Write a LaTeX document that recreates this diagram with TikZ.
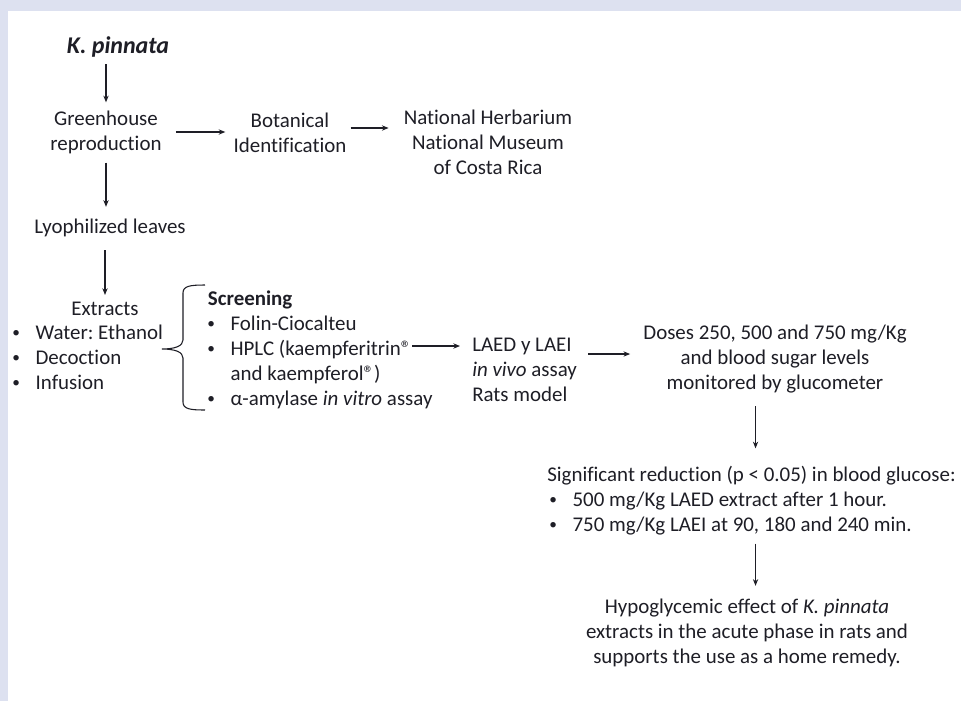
\documentclass[tikz,border=0pt]{standalone}
\usepackage{fontspec}
\setmainfont{Carlito}[Ligatures=NoCommon]
\usetikzlibrary{arrows.meta}
\definecolor{ink}{RGB}{30,30,38}
\definecolor{framec}{RGB}{221,225,240}
\newcommand{\txtfont}{\frenchspacing\fontsize{15.7pt}{18.75pt}\selectfont}
\newcommand{\blt}{\makebox[19pt][l]{\hspace{1.5pt}\raisebox{1.5pt}{\fontsize{11.5pt}{11.5pt}\selectfont\textbullet}}}
\newcommand{\reg}{\textregistered}

\begin{document}
\begin{tikzpicture}[x=0.75pt, y=-0.75pt,
          every node/.style={font=\txtfont, text=ink, inner sep=0pt},
          title/.style={align=center},
          listbox/.style={align=left, anchor=west},
          arr/.style={draw=ink, line width=0.8pt, -{Stealth[length=5pt,width=4pt]}}]

        \useasboundingbox (0,0) rectangle (961,701);
        \fill[framec] (0,0) rectangle (961,701);
        \fill[white]  (8,11) rectangle (961,701);

        \node[title, font=\fontsize{18pt}{22pt}\selectfont\bfseries\itshape] (kp) at (118,47) {K. pinnata};
        \node[title] (green) at (106,132) {Greenhouse\\reproduction};
        \node[title] (bot)   at (290,133) {Botanical\\Identification};
        \node[title] (herb)  at (488,142) {National Herbarium\\National Museum\\of Costa Rica};
        \node        (lyo)   at (110,228) {Lyophilized leaves};
        \coordinate  (botout) at ([yshift=3.75pt]bot.east);

        \draw[arr, shorten <=5pt, shorten >=6pt]       (kp.south -| green.north) -- (green.north);
        \draw[arr, shorten <=6.75pt, shorten >=9pt]    (green.south) -- (green.south |- lyo.north);
        \draw[arr, shorten <=10.5pt, shorten >=6pt]    (green.east) -- (green.east -| bot.west);
        \draw[arr, shorten <=3pt, shorten >=11.25pt]   (botout) -- (botout -| herb.west);

        \node           (extr)     at (105,309) {Extracts};
        \node[listbox]  (extrlist) at (10,357)  {\blt Water: Ethanol\\\blt Decoction\\\blt Infusion};
        \node[listbox]  (screen)   at (205,350) {\hspace{2pt}\textbf{Screening}\\\blt Folin-Ciocalteu\\\blt HPLC (kaempferitrin\reg\\\hspace*{19pt}and kaempferol\reg)\\\blt α-amylase \textit{in vitro} assay};
        \node[listbox]  (laed)     at (472,370) {LAED y LAEI\\\textit{in vivo} assay\\Rats model};
        \node[title]    (doses)    at (775,359) {Doses 250, 500 and 750 mg/Kg\\and blood sugar levels\\monitored by glucometer};
        \coordinate     (hplc)     at (412,346);
        \coordinate     (laedout)  at ([yshift=12pt]laed.east);

        \draw[arr, shorten <=9.75pt, shorten >=5.25pt] (lyo.south -| extr.north) -- (extr.north);
        \draw[ink, line width=0.8pt] (205,285) .. controls (190,285) and (183,286) .. (183,293) -- (183,340)
              .. controls (183,346) and (175,349) .. (162,349) .. controls (175,349) and (183,352) .. (183,358)
              -- (183,402) .. controls (183,409) and (190,410) .. (205,410);
        \draw[arr, shorten >=9pt] (hplc) -- (hplc -| laed.west);
        \draw[arr, shorten <=8.25pt, shorten >=9.75pt] (laedout) -- (laedout -| doses.west);

        \node[listbox] (signif) at (547,501) {Significant reduction (p < 0.05) in blood glucose:\\\blt 500 mg/Kg LAED extract after 1 hour.\\\blt 750 mg/Kg LAEI at 90, 180 and 240 min.};
        \node[title]   (hypo)   at (747,633) {Hypoglycemic effect of \textit{K. pinnata}\\extracts in the acute phase in rats and\\supports the use as a home remedy.};
        \coordinate    (sigtop) at ([xshift=3pt]signif.north);

        \draw[arr, shorten <=9.75pt, shorten >=13.5pt] (doses.south -| sigtop) -- (sigtop);
        \draw[arr, shorten <=6pt, shorten >=9.75pt]    (sigtop |- signif.south) -- (sigtop |- hypo.north);

      \end{tikzpicture}
\end{document}
